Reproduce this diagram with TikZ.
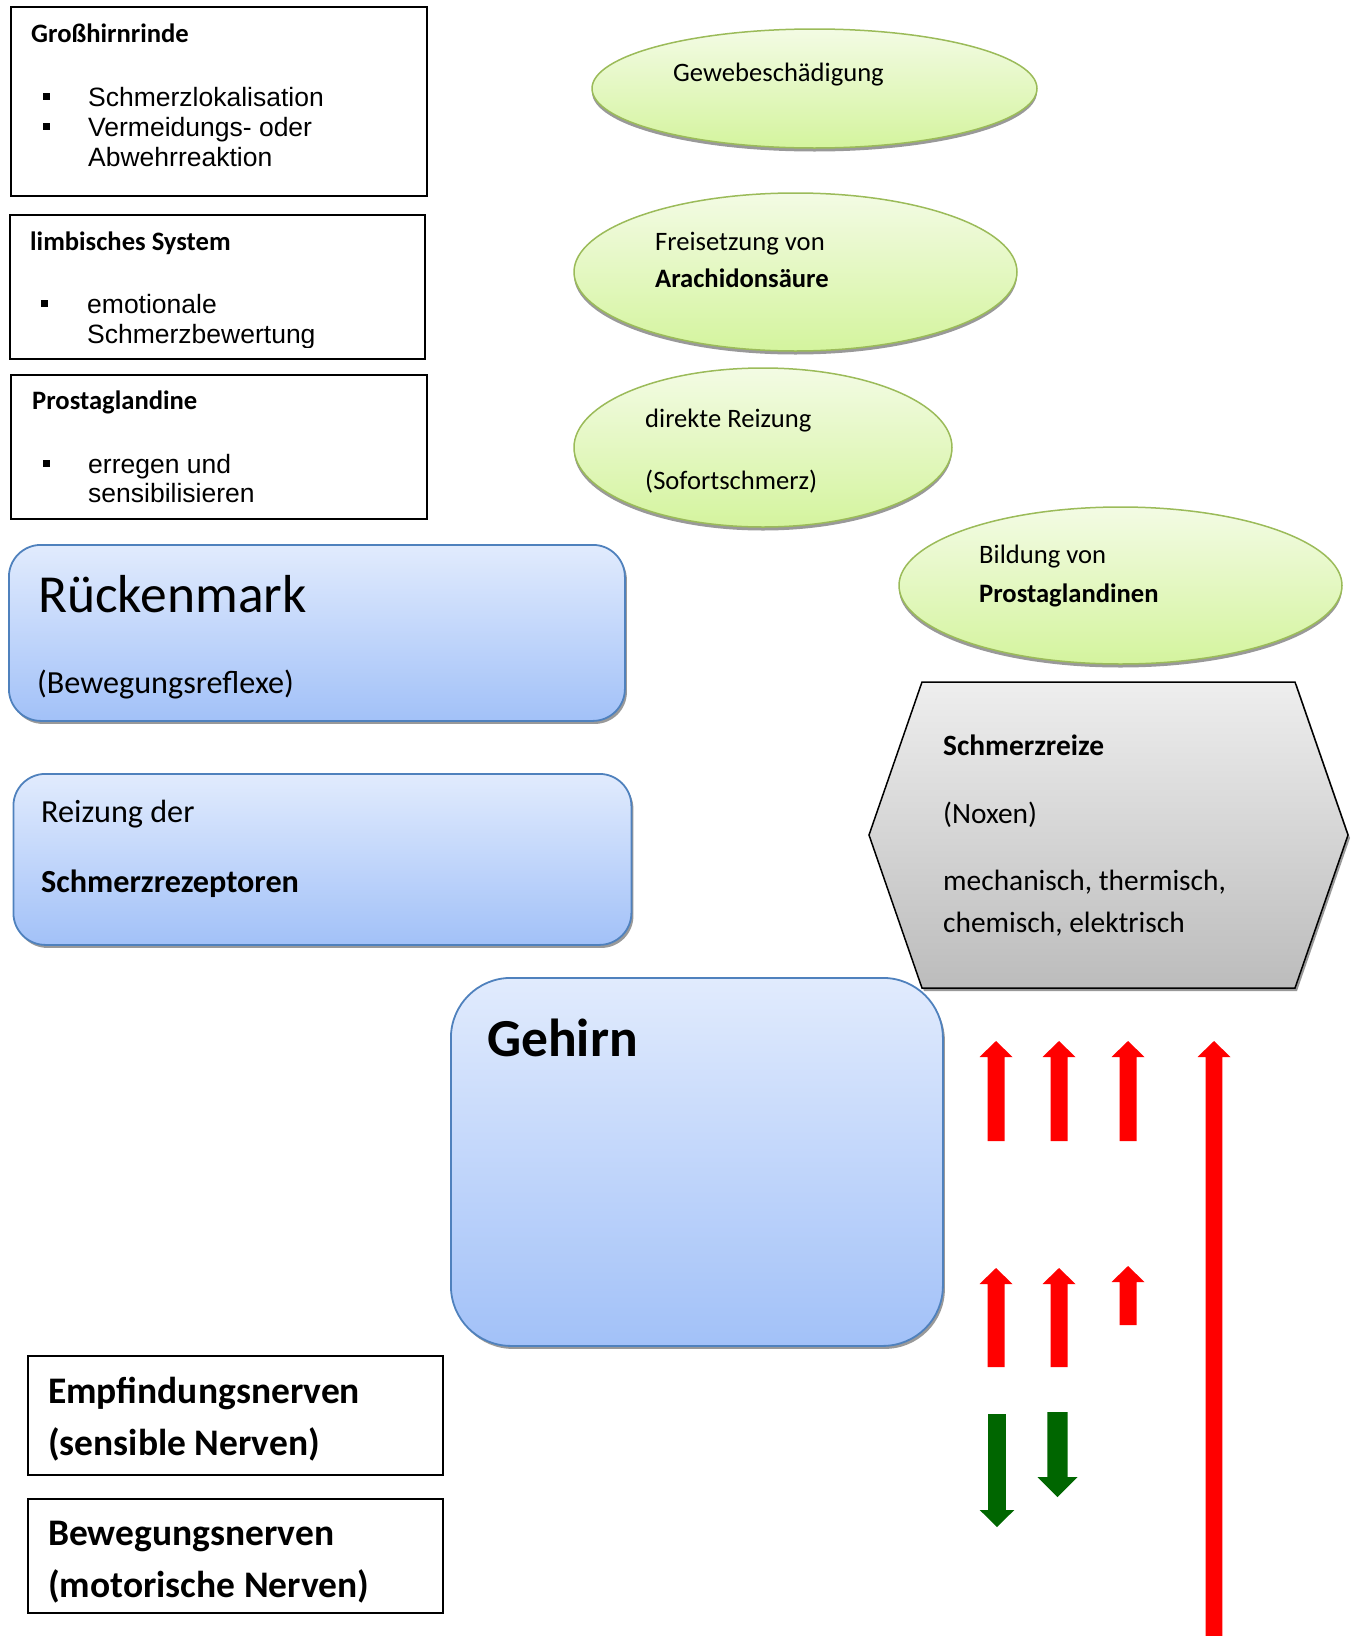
\documentclass[tikz,border=0pt]{standalone}
\usepackage{fontspec}
\setmainfont{Carlito}
\newfontfamily\arialfont{Liberation Sans}
\usetikzlibrary{shapes.geometric,shadows}
\definecolor{bluebord}{RGB}{79,129,189}
\definecolor{bluetop}{RGB}{225,235,253}
\definecolor{bluebot}{RGB}{162,193,248}
\definecolor{greenbord}{RGB}{155,187,89}
\definecolor{greentop}{RGB}{243,251,228}
\definecolor{greenbot}{RGB}{212,244,158}
\definecolor{graytop}{RGB}{238,238,238}
\definecolor{graybot}{RGB}{188,188,188}
\definecolor{arrred}{RGB}{255,0,0}
\definecolor{arrgreen}{RGB}{0,102,0}
\newcommand\fsz[1]{\fontsize{#1}{#1}\selectfont}
% up block arrow: style, cx, tip y, bottom y, head half width, shaft half width
\newcommand\upblk[6]{\fill[#1] (#2,#3) -- (#2+#5,#3+16) -- (#2+#6,#3+16) -- (#2+#6,#4) -- (#2-#6,#4) -- (#2-#6,#3+16) -- (#2-#5,#3+16) -- cycle;}
% down block arrow: style, cx, top y, tip y, head half width, shaft half width, head length
\newcommand\dnblk[7]{\fill[#1] (#2-#6,#3) -- (#2+#6,#3) -- (#2+#6,#4-#7) -- (#2+#5,#4-#7) -- (#2,#4) -- (#2-#5,#4-#7) -- (#2-#6,#4-#7) -- cycle;}
\newcommand\bsq[2]{\fill (#1,#2-13) rectangle ++(7,7);}
\begin{document}
\begin{tikzpicture}[x=1pt,y=-1pt,
  tbox/.style={draw=black, line width=1.6pt, fill=white, anchor=north west, inner sep=0pt},
  bbox/.style={draw=bluebord, line width=1.8pt, top color=bluetop, bottom color=bluebot, anchor=north west, inner sep=0pt, drop shadow={shadow xshift=2pt, shadow yshift=-3pt, fill=black!40, opacity=1}},
  gell/.style={ellipse, draw=greenbord, line width=1.5pt, top color=greentop, bottom color=greenbot, inner sep=0pt, drop shadow={shadow xshift=0pt, shadow yshift=-3.5pt, fill=black!40, opacity=1}},
  txt/.style={anchor=base west, inner sep=0pt, font=\fsz{26.6}},
  btxt/.style={anchor=base west, inner sep=0pt, font=\fsz{26.6}\bfseries},
  atxt/.style={anchor=base west, inner sep=0pt, font=\arialfont\fsz{26.5}},
  redarr/.style={fill=arrred},
  grnarr/.style={fill=arrgreen},
]
\useasboundingbox (0,0) rectangle (1357,1636);

% ---------- top-left boxes ----------
\node[tbox, minimum width=416pt, minimum height=189pt] (gh) at (10,6) {};
\node[btxt] (ghT) at (31,42) {Großhirnrinde};
\bsq{43}{106}\bsq{43}{136}
\node[atxt] (gh1) at (88,106) {Schmerzlokalisation};
\node[atxt] (gh2) at (88,136) {Vermeidungs- oder};
\node[atxt] (gh3) at (88,166) {Abwehrreaktion};

\node[tbox, minimum width=415pt, minimum height=144pt] (lim) at (9,214) {};
\node[btxt] (limT) at (30,250) {limbisches System};
\bsq{41}{313}
\begin{scope}
\clip (9,214) rectangle (424,347);
\node[atxt] (lim1) at (87,313) {emotionale};
\node[atxt] (lim2) at (87,343) {Schmerzbewertung};
\end{scope}

\node[tbox, minimum width=416pt, minimum height=144pt] (pro) at (10,374) {};
\node[btxt] (proT) at (32,409) {Prostaglandine};
\bsq{43}{473}
\node[atxt] (pro1) at (88,473) {erregen und};
\node[atxt] (pro2) at (88,502) {sensibilisieren};

% ---------- ellipses ----------
\node[gell, minimum width=445pt, minimum height=119pt] (gew) at (814.5,88.5) {};
\node[txt] (gewT) at (673,81) {Gewebeschädigung};

\node[gell, minimum width=443pt, minimum height=158pt] (frei) at (795.5,272) {};
\node[txt] (frei1) at (655,250) {Freisetzung von};
\node[btxt] (frei2) at (655,287) {Arachidonsäure};

\node[gell, minimum width=378pt, minimum height=159pt] (dir) at (763,447.5) {};
\node[txt] (dir1) at (645,427) {direkte Reizung};
\node[txt] (dir2) at (645,489) {(Sofortschmerz)};

\node[gell, minimum width=443pt, minimum height=157pt] (bil) at (1120.5,585.5) {};
\node[txt] (bil1) at (979,563) {Bildung von};
\node[btxt] (bil2) at (979,602) {Prostaglandinen};

% ---------- hexagon ----------
\fill[black!40] (924,685) -- (1297,685) -- (1350,838) -- (1297,991) -- (924,991) -- (871,838) -- cycle;
\draw[draw=black, line width=1.5pt, top color=graytop, bottom color=graybot] (922,682) -- (1295,682) -- (1348,835) -- (1295,988) -- (922,988) -- (869,835) -- cycle;
\coordinate (hex) at (1108,835);
\node[anchor=base west, inner sep=0pt, font=\fsz{29.4}\bfseries] (hx1) at (943,755) {Schmerzreize};
\node[anchor=base west, inner sep=0pt, font=\fsz{29.4}] (hx2) at (943,823) {(Noxen)};
\node[anchor=base west, inner sep=0pt, font=\fsz{29.4}] (hx3) at (943,890) {mechanisch, thermisch,};
\node[anchor=base west, inner sep=0pt, font=\fsz{29.4}] (hx4) at (943,932) {chemisch, elektrisch};

% ---------- blue boxes ----------
\node[bbox, rounded corners=32pt, minimum width=616pt, minimum height=176pt] (rue) at (8,544) {};
\node[anchor=base west, inner sep=0pt, font=\fsz{53.5}] (rueT) at (38,612) {Rückenmark};
\node[anchor=base west, inner sep=0pt, font=\fsz{32.2}] (rueS) at (37,693) {(Bewegungsreflexe)};

\node[bbox, rounded corners=32pt, minimum width=618pt, minimum height=171pt] (rei) at (12.5,773) {};
\node[anchor=base west, inner sep=0pt, font=\fsz{32.2}] (rei1) at (41,822) {Reizung der};
\node[anchor=base west, inner sep=0pt, font=\fsz{32.2}\bfseries] (rei2) at (41,892) {Schmerzrezeptoren};

\node[bbox, rounded corners=60pt, minimum width=492pt, minimum height=368pt] (geh) at (450,977) {};
\node[anchor=base west, inner sep=0pt, font=\fsz{53.5}\bfseries] (gehT) at (487,1056) {Gehirn};

% ---------- nerve boxes ----------
\node[tbox, minimum width=415pt, minimum height=119pt] (emp) at (27,1355) {};
\node[anchor=base west, inner sep=0pt, font=\fsz{37.5}\bfseries] (emp1) at (48,1403) {Empfindungsnerven};
\node[anchor=base west, inner sep=0pt, font=\fsz{37.5}\bfseries] (emp2) at (48,1455) {(sensible Nerven)};

\node[tbox, minimum width=415pt, minimum height=114pt] (bew) at (27,1498) {};
\node[anchor=base west, inner sep=0pt, font=\fsz{37.5}\bfseries] (bew1) at (48,1545) {Bewegungsnerven};
\node[anchor=base west, inner sep=0pt, font=\fsz{37.5}\bfseries] (bew2) at (48,1597) {(motorische Nerven)};

% ---------- arrows ----------
\upblk{redarr}{996}{1041}{1141}{16.5}{8.5}
\upblk{redarr}{1059}{1041}{1141}{16.5}{8.5}
\upblk{redarr}{1128}{1041}{1141}{16.5}{8.5}
\upblk{redarr}{996}{1268}{1367}{16.5}{8.5}
\upblk{redarr}{1059}{1268}{1367}{16.5}{8.5}
\upblk{redarr}{1128}{1266}{1325}{16.5}{8.5}
\upblk{redarr}{1214}{1041}{1640}{16.5}{8.3}
\dnblk{grnarr}{997}{1414}{1527}{17.3}{8.8}{17}
\dnblk{grnarr}{1057.5}{1412}{1497}{20}{10.2}{20}
\end{tikzpicture}
\end{document}
